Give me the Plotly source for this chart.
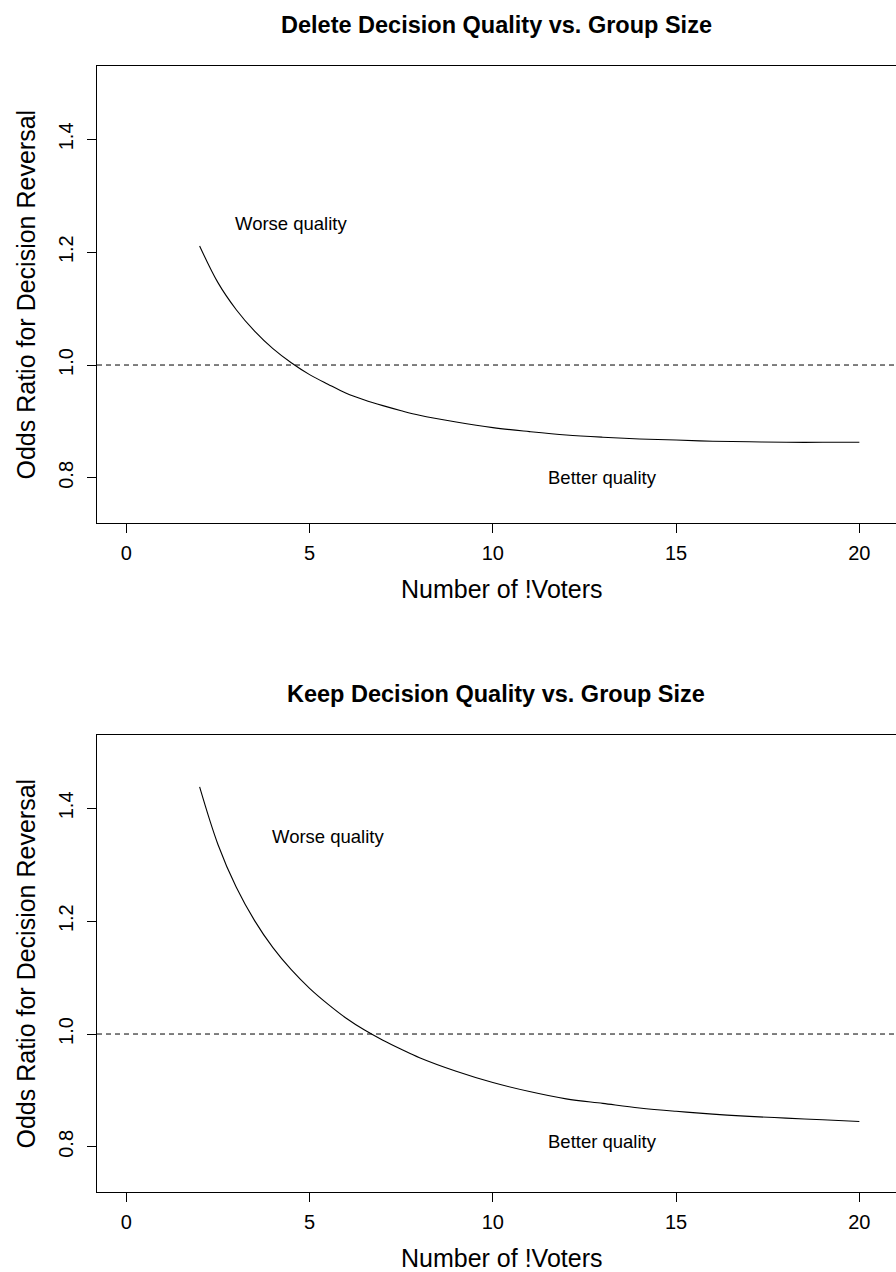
import plotly.graph_objects as go

# ---- data ----
voters = [2, 2.5, 3, 3.5, 4, 4.5, 5, 5.5, 6, 6.5, 7, 7.5, 8,
          9, 10, 11, 12, 13, 14, 15, 16, 17, 18, 19, 20]
delete_or = [1.211, 1.146, 1.098, 1.060, 1.029, 1.004, 0.983, 0.966, 0.950, 0.938, 0.928, 0.919, 0.911,
             0.899, 0.889, 0.882, 0.876, 0.872, 0.869, 0.867, 0.865, 0.864, 0.863, 0.863, 0.863]
keep_or = [1.438, 1.336, 1.260, 1.201, 1.153, 1.114, 1.081, 1.053, 1.028, 1.007, 0.989, 0.973, 0.958,
           0.934, 0.914, 0.898, 0.885, 0.877, 0.869, 0.863, 0.858, 0.854, 0.851, 0.848, 0.845]
titles = ["Delete Decision Quality vs. Group Size", "Keep Decision Quality vs. Group Size"]
x_ticks = [0, 5, 10, 15, 20]
y_ticks = [0.8, 1.0, 1.2, 1.4]
y_tick_text = ["0.8", "1.0", "1.2", "1.4"]
ref_level = 1.0
notes = [  # (x, y, text) per panel
    [(4.5, 1.25, "Worse quality"), (13, 0.80, "Better quality")],
    [(5.5, 1.35, "Worse quality"), (13, 0.81, "Better quality")],
]

W, H = 896, 1272
FONT = "Liberation Sans, Arial, Helvetica, sans-serif"

fig = go.Figure()

# panel pixel geometry (top, bottom) in page pixels
panels = [(66, 523), (735, 1192)]
x_left_px = 97
xdom = [x_left_px / W, 1.0]
xrange = [-0.8, 21.0]
yrange = [0.72, 1.53]

series = [delete_or, keep_or]
for i, (top, bot) in enumerate(panels):
    k = "" if i == 0 else "2"
    xa, ya = "x" + k, "y" + k
    fig.add_trace(go.Scatter(x=voters, y=series[i], mode="lines",
                             line=dict(color="black", width=1.1, shape="spline", smoothing=1.0),
                             xaxis=xa, yaxis=ya, showlegend=False, hoverinfo="skip"))
    fig.add_trace(go.Scatter(x=[xrange[0], xrange[1]], y=[ref_level, ref_level], mode="lines",
                             line=dict(color="black", width=1, dash="5px,4px"),
                             xaxis=xa, yaxis=ya, showlegend=False, hoverinfo="skip"))
    ydom = [1 - bot / H, 1 - top / H]
    axis_common = dict(showgrid=False, zeroline=False, showline=True, linecolor="black",
                       linewidth=1, ticks="outside", ticklen=9, tickwidth=1, tickcolor="black",
                       tickfont=dict(family=FONT, size=20, color="black"))
    fig.update_layout(**{
        "xaxis" + k: dict(domain=xdom, range=xrange, tickvals=x_ticks, mirror=True,
                          anchor=ya, ticklabelstandoff=3, **axis_common),
        "yaxis" + k: dict(domain=ydom, range=yrange, tickvals=y_ticks, ticktext=y_tick_text,
                          tickangle=-90, anchor=xa, ticklabelstandoff=6, **axis_common),
    })
    for (nx, ny, txt) in notes[i]:
        fig.add_annotation(x=nx, y=ny, xref=xa, yref=ya, text=txt, showarrow=False,
                           font=dict(family=FONT, size=18.5, color="black"))
    # title
    fig.add_annotation(x=496 / W, y=1 - (top - 41) / H, xref="paper", yref="paper",
                       text="<b>" + titles[i] + "</b>", showarrow=False,
                       font=dict(family=FONT, size=23.5, color="black"),
                       xanchor="center", yanchor="middle")
    # x axis title
    fig.add_annotation(x=501 / W, y=1 - (bot + 66) / H, xref="paper", yref="paper",
                       text="Number of !Voters", showarrow=False,
                       font=dict(family=FONT, size=25, color="black"),
                       xanchor="center", yanchor="middle")
    # y axis title
    fig.add_annotation(x=25 / W, y=1 - ((top + bot) / 2) / H, xref="paper", yref="paper",
                       text="Odds Ratio for Decision Reversal", showarrow=False, textangle=-90,
                       font=dict(family=FONT, size=25, color="black"),
                       xanchor="center", yanchor="middle")

fig.update_layout(width=W, height=H, margin=dict(l=0, r=0, t=0, b=0),
                  paper_bgcolor="white", plot_bgcolor="white")
fig.write_html("out.html")
